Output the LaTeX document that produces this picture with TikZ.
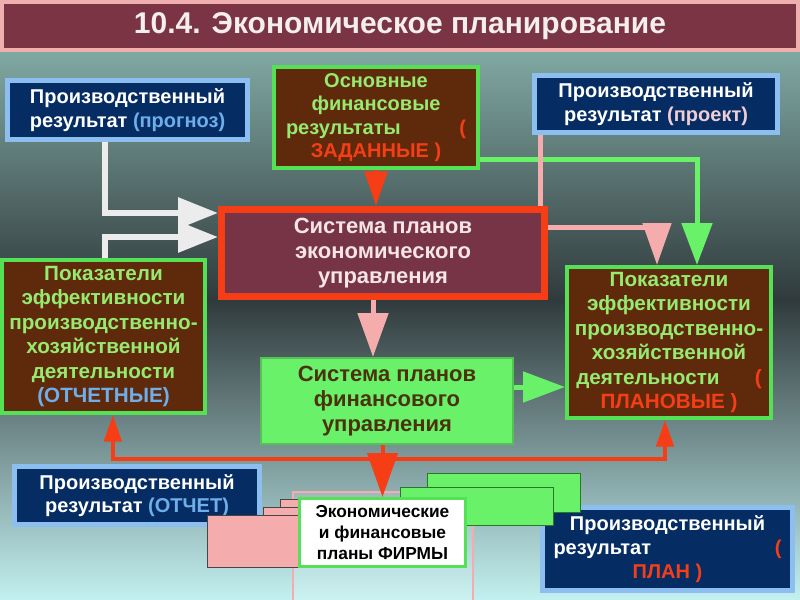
\documentclass[tikz,border=0pt]{standalone}
\usepackage{fontspec}
\setmainfont{Liberation Sans}
\usetikzlibrary{arrows.meta,backgrounds}

\definecolor{bgtop}{RGB}{128,168,162}
\definecolor{bgmid}{RGB}{48,58,60}
\definecolor{bgbot}{RGB}{195,240,240}
\definecolor{titlefill}{RGB}{122,52,68}
\definecolor{titleline}{RGB}{240,175,175}
\definecolor{titletext}{RGB}{245,238,238}
\definecolor{navy}{RGB}{5,45,100}
\definecolor{skyline}{RGB}{140,190,240}
\definecolor{skytext}{RGB}{110,175,235}
\definecolor{brownfill}{RGB}{95,42,12}
\definecolor{leaf}{RGB}{85,225,85}
\definecolor{leaftext}{RGB}{150,235,110}
\definecolor{flame}{RGB}{245,62,22}
\definecolor{sysfill}{RGB}{118,52,70}
\definecolor{systext}{RGB}{245,228,232}
\definecolor{rose}{RGB}{245,172,172}
\definecolor{rosetext}{RGB}{240,205,212}
\definecolor{mint}{RGB}{105,242,105}
\definecolor{mintedge}{RGB}{40,120,40}
\definecolor{olive}{RGB}{75,50,10}
\definecolor{chalk}{RGB}{236,236,236}

\tikzset{every picture/.style={line width=0.75pt}}
\tikzset{
  plainbox/.style={rectangle, inner sep=0pt, align=center, font=\bfseries\fontsize{15}{17.5}\selectfont},
  titlebox/.style={plainbox, draw=titleline, line width=3pt, fill=titlefill, text=titletext, font=\bfseries\fontsize{22.5}{26}\selectfont},
  bluebox/.style={plainbox, draw=skyline, line width=3.75pt, fill=navy, text=white},
  brownbox/.style={plainbox, draw=leaf, line width=3pt, fill=brownfill, text=leaftext, font=\bfseries\fontsize{15.5}{18.4}\selectfont},
  sysbox/.style={plainbox, draw=flame, line width=5.25pt, fill=sysfill, text=systext, font=\bfseries\fontsize{16.5}{19}\selectfont},
  finbox/.style={plainbox, draw=mint!80!black, line width=1.5pt, fill=mint, text=olive, font=\bfseries\fontsize{16.5}{19}\selectfont},
  firmbox/.style={plainbox, draw=leaf, line width=2.25pt, fill=white, text=black, font=\bfseries\fontsize{13}{16}\selectfont},
  pinkpaper/.style={fill=rose, draw=gray!55!black, line width=0.75pt},
  greenpaper/.style={fill=mint, draw=mintedge, line width=0.75pt},
  wline/.style={draw=chalk, line width=4.5pt, -{Triangle[width=22.5pt,length=30pt]}},
  rline/.style={draw=flame, line width=3pt},
  gline/.style={draw=mint, line width=3.75pt},
  pline/.style={draw=rose, line width=3.75pt},
}

\begin{document}
\begin{tikzpicture}[x=0.75pt,y=0.75pt,yscale=-1,xscale=1]
	\useasboundingbox (0,0) rectangle (800,600);

	% background
	\begin{scope}[on background layer]
	\shade[top color=bgtop, bottom color=bgmid] (0,52) rectangle (800,300);
	\shade[top color=bgmid, bottom color=bgbot] (0,299) rectangle (800,600);
	\end{scope}

	% title
	\node[titlebox, minimum width=597pt, minimum height=36pt] (title) at (400,26) {10.4. Экономическое планирование};

	% top row
	\node[bluebox, minimum width=180pt, minimum height=44.25pt] (prognoz) at (127.5,110) {Производственный\\результат {\color{skytext}(прогноз)}};
	\node[brownbox, font=\bfseries\fontsize{15}{17.5}\selectfont, minimum width=153pt, minimum height=75.75pt] (osnov) at (376,117.5) {Основные\\финансовые\\\makebox[135pt]{результаты\hfill{\color{flame}(}}\\{\color{flame}ЗАДАННЫЕ )}};
	\node[bluebox, minimum width=182.25pt, minimum height=42.75pt] (proekt) at (656,104) {Производственный\\результат {\color{rosetext}(проект)}};

	% middle
	\node[sysbox, minimum width=242.25pt, minimum height=65.25pt] (sistema) at (383,253) {Система планов\\экономического\\управления};
	\node[brownbox, minimum width=152.25pt, minimum height=114.75pt] (pokL) at (103.5,336.5) {Показатели\\эффективности\\производственно-\\хозяйственной\\деятельности\\{\color{skytext}(ОТЧЕТНЫЕ)}};
	\node[brownbox, minimum width=153pt, minimum height=113.25pt] (pokR) at (669,342.5) {Показатели\\эффективности\\производственно-\\хозяйственной\\\makebox[139pt]{деятельности\hfill{\color{flame}(}}\\{\color{flame}ПЛАНОВЫЕ )}};
	\node[finbox, minimum width=189pt, minimum height=64.5pt] (finsys) at (387,401) {Система планов\\финансового\\управления};

	% bottom
	\node[bluebox, minimum width=183.75pt, minimum height=43.5pt] (otchet) at (137,495.5) {Производственный\\результат {\color{skytext}(ОТЧЕТ)}};
	\node[bluebox, minimum width=187.5pt, minimum height=62.25pt, font=\bfseries\fontsize{15}{18}\selectfont] (plan) at (667.5,549) {Производственный\\\makebox[171pt]{результат\hfill{\color{flame}(}}\\{\color{flame}ПЛАН )}};

	% stack of plans
	\draw [draw=rose, line width=1.5pt, fill=white, fill opacity=0.15] (293,492) rectangle (473,602);
	\draw [pinkpaper] (280,499) rectangle (420,545);
	\draw [pinkpaper] (263,507) rectangle (420,555);
	\draw [pinkpaper] (207,515) rectangle (420,567);
	\draw [greenpaper] (427,473) rectangle (580,512);
	\draw [greenpaper] (400,487) rectangle (553,525);
	\node[firmbox, minimum width=124.5pt, minimum height=51pt] (firm) at (382.5,532.5) {Экономические\\и финансовые\\планы ФИРМЫ};

	% connectors
	\coordinate (wx) at (105,0);
	\coordinate (rj) at (380,459);
	\begin{scope}[on background layer]
	\draw[wline] (prognoz.south -| wx) |- ([yshift=-30pt]sistema.west);
	\draw[wline] (pokL.north -| wx) |- ([yshift=-12pt]sistema.west);
	\draw[rline, -{Triangle[width=17pt,length=26pt]}] (osnov.south) -- (osnov.south |- sistema.north);
	\draw[gline, -{Triangle[width=22.5pt,length=31.5pt]}] ([yshift=31.5pt]osnov.east) -| ([xshift=21pt]pokR.north);
	\draw[pline] ([xshift=-87pt]proekt.south) -- ([xshift=-87pt]proekt.south |- sistema.north);
	\draw[pline, -{Triangle[width=21pt,length=31.5pt]}] ([yshift=-19.5pt]sistema.east) -| ([xshift=-9pt]pokR.north);
	\draw[pline, -{Triangle[width=22.5pt,length=33pt]}] ([xshift=-7.5pt]sistema.south) -- ([xshift=-7.5pt]sistema.south |- finsys.north);
	\draw[gline, -{Triangle[width=22.5pt,length=31.5pt]}] ([yshift=-10.5pt]finsys.east) -- ([yshift=-10.5pt]finsys.east -| pokR.west);
	\end{scope}
	\draw[rline, -{Triangle[width=22.5pt,length=33pt]}] (firm.north |- finsys.south) -- (firm.north);
	\draw[rline, -{Triangle[width=13pt,length=20pt]}] (rj) -| ([xshift=7pt]pokL.south);
	\draw[rline, -{Triangle[width=13pt,length=20pt]}] (rj) -| ([xshift=-3pt]pokR.south);

\end{tikzpicture}
\end{document}
